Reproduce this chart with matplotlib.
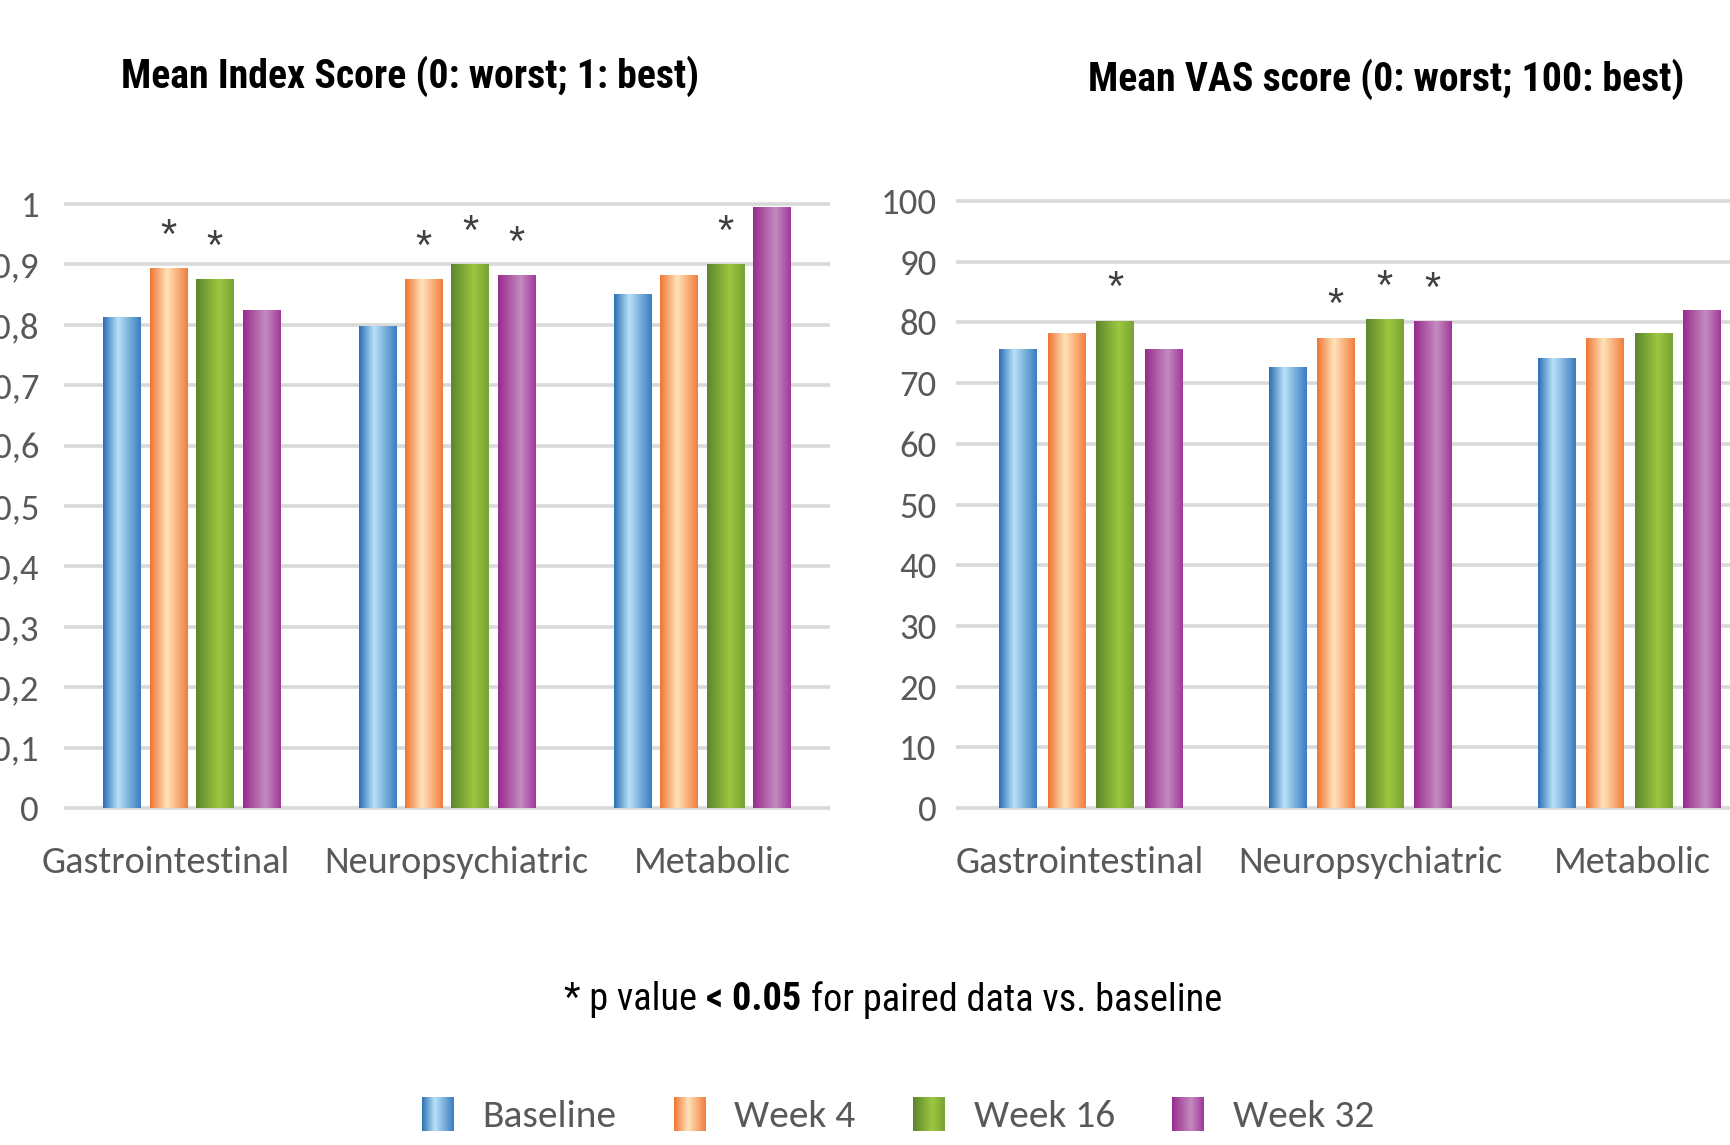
import numpy as np
import matplotlib
matplotlib.use("Agg")
import matplotlib.pyplot as plt
from matplotlib import font_manager
from matplotlib.colors import LinearSegmentedColormap
from matplotlib.patches import Patch
from matplotlib.transforms import ScaledTranslation

# calibri-like for labels; first installed one wins
label_font = ['Carlito', 'Liberation Sans Narrow', 'Roboto Condensed', 'Archivo Narrow', 'Liberation Sans']
plt.rcParams['font.family'] = label_font + ['DejaVu Sans']

# arial-narrow-like bold for titles: take the first narrow family that really has a bold face
narrow_candidates = ['Liberation Sans Narrow', 'Roboto Condensed', 'PT Sans Narrow', 'Open Sans Condensed',
                     'Arimo Narrow', 'IBM Plex Sans Condensed', 'Fira Sans Condensed', 'Archivo Narrow',
                     'Barlow Semi Condensed', 'Asap Condensed', 'Encode Sans Condensed']
installed = {}
for f in font_manager.fontManager.ttflist:
    w = f.weight if isinstance(f.weight, int) else 700 if str(f.weight) == 'bold' else 400
    installed.setdefault(f.name, set()).add((w, f.style))
title_family = 'Liberation Sans'
for name in narrow_candidates:
    faces = installed.get(name, set())
    if any(w >= 700 and s == 'normal' for w, s in faces) and any(w == 400 and s == 'normal' for w, s in faces):
        title_family = name
        break
title_font = [title_family, 'Liberation Sans', 'DejaVu Sans']

# ---- data ----
categories = ["Gastrointestinal", "Neuropsychiatric", "Metabolic"]
series = ["Baseline", "Week 4", "Week 16", "Week 32"]

index_baseline = [0.812, 0.798, 0.850]
index_week4 = [0.893, 0.875, 0.881]
index_week16 = [0.875, 0.900, 0.900]
index_week32 = [0.823, 0.881, 0.994]

vas_baseline = [75.6, 72.5, 74.1]
vas_week4 = [78.1, 77.4, 77.4]
vas_week16 = [80.2, 80.5, 78.1]
vas_week32 = [75.6, 80.1, 81.9]

# p < 0.05 vs baseline (one flag per category)
index_sig_baseline = [False, False, False]
index_sig_week4 = [True, True, False]
index_sig_week16 = [True, True, True]
index_sig_week32 = [False, True, False]
vas_sig_baseline = [False, False, False]
vas_sig_week4 = [False, True, False]
vas_sig_week16 = [True, True, False]
vas_sig_week32 = [False, True, False]

index_ticks = [0, 0.1, 0.2, 0.3, 0.4, 0.5, 0.6, 0.7, 0.8, 0.9, 1]
index_ticklabels = ["0", "0,1", "0,2", "0,3", "0,4", "0,5", "0,6", "0,7", "0,8", "0,9", "1"]
vas_ticks = [0, 10, 20, 30, 40, 50, 60, 70, 80, 90, 100]
vas_ticklabels = ["0", "10", "20", "30", "40", "50", "60", "70", "80", "90", "100"]

# excel-like horizontal gradients (left edge -> highlight -> right edge)
gradients = [
    LinearSegmentedColormap.from_list("blue", [(0, "#2A6EB4"), (0.4, "#B9E1F8"), (1, "#3A7CC0")]),
    LinearSegmentedColormap.from_list("orange", [(0, "#EF7433"), (0.45, "#FFE3BA"), (1, "#F17D3D")]),
    LinearSegmentedColormap.from_list("green", [(0, "#5C852F"), (0.6, "#9DC73E"), (1, "#77A236")]),
    LinearSegmentedColormap.from_list("purple", [(0, "#982B8C"), (0.6, "#C48BC0"), (1, "#A0389A")]),
]
mid_colors = ["#6FA8DC", "#F9A66C", "#86B03A", "#B066A9"]

grid_color = "#D9D9D9"
label_color = "#595959"
ramp = np.linspace(0, 1, 256).reshape(1, -1)

W, H = 1731, 1145
fig = plt.figure(figsize=(W / 100, H / 100), dpi=100)
renderer = fig.canvas.get_renderer()


def text_width(s, size, **kw):
    t = fig.text(0, 0, s, fontsize=size, **kw)
    w = t.get_window_extent(renderer).width
    t.remove()
    return w


def fit(s, target_px, **kw):
    # font size that makes s about target_px wide
    return 20 * target_px / text_width(s, 20, **kw)


xlab_size = fit("Gastrointestinal", 248)
ylab_size = fit("100", 56)
leg_size = fit("Baseline", 134)
title_size = fit("Mean Index Score (0: worst; 1: best)", 577, family=title_font, fontweight="bold")
ast_size = 30


def draw_panel(ax, values, flags, ticks, ticklabels, top, width, pitch, ypad, label_shift):
    x = np.arange(len(categories))
    for i, (vals, sig) in enumerate(zip(values, flags)):
        pos = x + (i - 1.5) * pitch
        bars = ax.bar(pos, vals, width=width, color="none", zorder=3)
        for rect in bars:
            x0, w, h = rect.get_x(), rect.get_width(), rect.get_height()
            ax.imshow(ramp, cmap=gradients[i], extent=[x0, x0 + w, 0, h],
                      aspect="auto", interpolation="bilinear", zorder=3)
        for p, v, s in zip(pos, vals, sig):
            if s:
                ax.annotate("*", (p, v + 0.074 * top), xytext=(0, -0.58 * ast_size),
                            textcoords="offset points", ha="center", va="baseline",
                            fontsize=ast_size, color="#404040", family="Liberation Sans")
    pad = top * 0.005
    ax.set_xlim(-0.5, len(categories) - 0.5)
    ax.set_ylim(-pad, top + pad)
    for t in ticks:
        ax.axhline(t, color=grid_color, lw=2.6, zorder=1)
    ax.set_yticks(ticks)
    ax.set_yticklabels(ticklabels)
    ax.set_xticks(x)
    ax.set_xticklabels(categories)
    ax.tick_params(axis="y", length=0, pad=ypad, labelsize=ylab_size, labelcolor=label_color)
    ax.tick_params(axis="x", length=0, pad=25, labelsize=xlab_size, labelcolor=label_color)
    # excel nudges the category labels apart a little
    for lab, dx in zip(ax.get_xticklabels(), label_shift):
        lab.set_transform(lab.get_transform() + ScaledTranslation(dx / 100, 0, fig.dpi_scale_trans))
    for sp in ax.spines.values():
        sp.set_visible(False)


ax1 = fig.add_axes([64 / W, (H - 811) / H, 766 / W, 610 / H])
draw_panel(ax1, [index_baseline, index_week4, index_week16, index_week32],
           [index_sig_baseline, index_sig_week4, index_sig_week16, index_sig_week32],
           index_ticks, index_ticklabels, 1.0, 0.147, 0.182, 18, [-26, 9, 10])

ax2 = fig.add_axes([956 / W, (H - 811) / H, 808 / W, 613 / H])
draw_panel(ax2, [vas_baseline, vas_week4, vas_week16, vas_week32],
           [vas_sig_baseline, vas_sig_week4, vas_sig_week16, vas_sig_week32],
           vas_ticks, vas_ticklabels, 100, 0.139, 0.18, 14, [-11, 10, 3])

fig.text(410 / W, 1 - 76 / H, "Mean Index Score (0: worst; 1: best)", ha="center",
         va="center", fontsize=title_size, fontweight="bold", family=title_font)
fig.text(1386 / W, 1 - 79 / H, "Mean VAS score (0: worst; 100: best)", ha="center",
         va="center", fontsize=title_size, fontweight="bold", family=title_font)

# legend with gradient swatches laid over plain patches
handles = [Patch(facecolor=c) for c in mid_colors]
leg = fig.legend(handles, series, loc="center", bbox_to_anchor=(898 / W, 30 / H), ncol=4,
                 frameon=False, fontsize=leg_size, handlelength=0.8, handleheight=0.95,
                 handletextpad=0.74, columnspacing=1.45, labelcolor=label_color)

fig.canvas.draw()

for i, patch in enumerate(leg.get_patches()):
    bb = patch.get_window_extent(renderer)
    sw = fig.add_axes([bb.x0 / W, bb.y0 / H, bb.width / W, bb.height / H])
    sw.imshow(ramp, cmap=gradients[i], aspect="auto", interpolation="bilinear")
    sw.axis("off")
    patch.set_visible(False)

# footnote with bold "< 0.05"
parts = [("* p value", "normal"), ("< 0.05", "bold"), ("for paired data vs. baseline", "normal")]
fy = 145 / H
space = text_width("a a", 20, family=title_font) - text_width("aa", 20, family=title_font)
total20 = sum(text_width(s, 20, family=title_font, fontweight=w) for s, w in parts) + 2 * space
foot_size = 20 * 657 / total20
scale = foot_size / 20
x = 893 - 657 / 2
for txt, wgt in parts:
    fig.text(x / W, fy, txt, fontsize=foot_size, fontweight=wgt, family=title_font,
             ha="left", va="center", color="black")
    x += text_width(txt, 20, family=title_font, fontweight=wgt) * scale + space * scale

fig.savefig("out.png", dpi=100)
